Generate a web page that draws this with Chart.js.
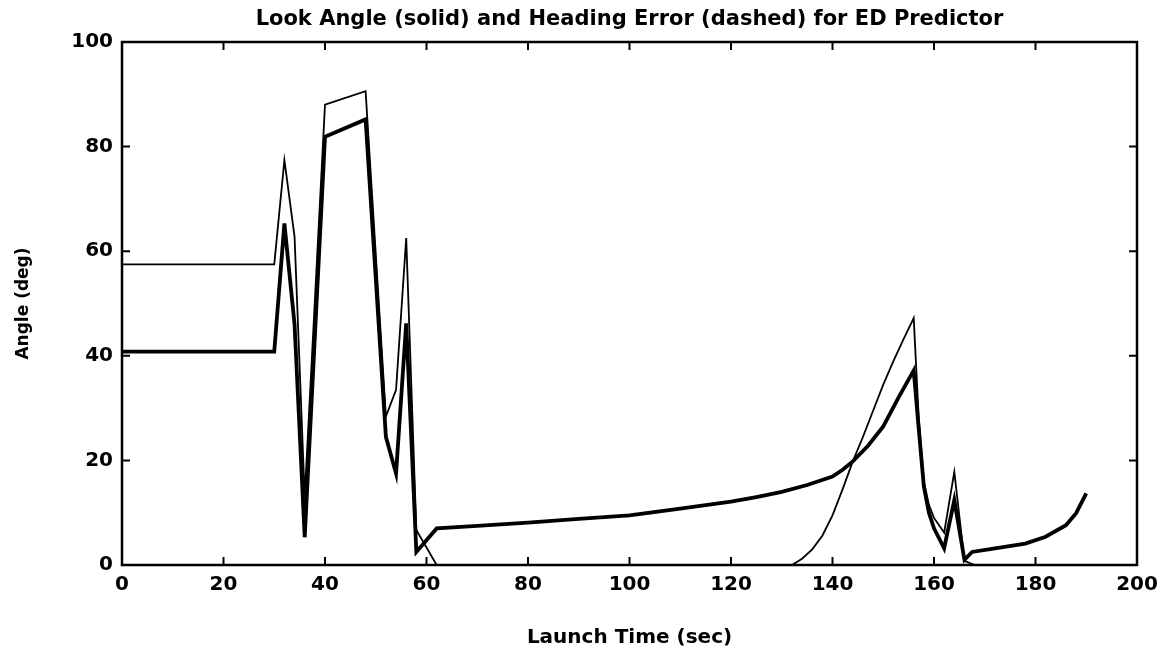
<!DOCTYPE html>
<html>
<head>
<meta charset="utf-8">
<script src="https://cdn.jsdelivr.net/npm/chart.js@4.4.0/dist/chart.umd.min.js"></script>
<style>
  body { margin: 0; background: #fff; }
  #wrap { width: 1168px; height: 650px; }
</style>
</head>
<body>
<div id="wrap"><canvas id="lookChart" width="1168" height="650"></canvas></div>
<script>
// Look angle (thick line), launch time in sec
const lookTime = [0, 30, 32, 34, 36, 40, 48, 52, 54, 56, 58, 62, 70, 80, 90, 100, 110, 120, 125, 130, 135, 140, 142, 144, 147, 150, 153, 156, 157, 158, 159, 160, 162, 164, 166, 167.5, 172, 178, 182, 186, 188, 190];
const lookAngle = [40.8, 40.8, 65.3, 46, 5.3, 81.9, 85.2, 24.5, 17.5, 46.2, 2.5, 7.0, 7.5, 8.1, 8.8, 9.5, 10.8, 12.1, 13.0, 14.0, 15.3, 16.9, 18.2, 19.8, 22.8, 26.5, 32.0, 37.2, 26, 15, 10, 7, 3.2, 12.4, 1.0, 2.5, 3.2, 4.1, 5.4, 7.6, 9.9, 13.7];

// Heading error (thin line)
const headingTime = [0, 30, 32, 34, 36, 40, 48, 52, 54, 56, 58, 62, 132, 134, 136, 138, 140, 142, 144, 146, 148, 150, 152, 154, 156, 157, 158, 159, 160, 162, 164, 166, 168];
const headingError = [57.5, 57.5, 77.4, 62.8, 13, 88, 90.6, 28.4, 33.5, 62.5, 6.7, 0, 0, 1.2, 3, 5.6, 9.5, 14.5, 19.8, 24.5, 29.5, 34.5, 39, 43.2, 47.2, 28, 16, 11.5, 9, 6.2, 17.8, 0.8, 0];

const xTicks = [0, 20, 40, 60, 80, 100, 120, 140, 160, 180, 200];
const yTicks = [0, 20, 40, 60, 80, 100];

function toPoints(xs, ys) {
  return xs.map((x, i) => ({ x: x, y: ys[i] }));
}

Chart.defaults.font.family = "'DejaVu Sans', sans-serif";
Chart.defaults.color = "#000";

// box round the plot with inward ticks on all four sides
const frameTicks = {
  id: "frameTicks",
  afterDatasetsDraw(chart) {
    const { ctx, chartArea: a, scales } = chart;
    const len = 8;
    ctx.save();
    ctx.strokeStyle = "#000";
    ctx.lineWidth = 2.5;
    ctx.strokeRect(a.left, a.top, a.right - a.left, a.bottom - a.top);
    ctx.lineWidth = 2;
    ctx.beginPath();
    scales.x.ticks.forEach((t) => {
      const px = scales.x.getPixelForValue(t.value);
      ctx.moveTo(px, a.bottom);
      ctx.lineTo(px, a.bottom - len);
      ctx.moveTo(px, a.top);
      ctx.lineTo(px, a.top + len);
    });
    scales.y.ticks.forEach((t) => {
      const py = scales.y.getPixelForValue(t.value);
      ctx.moveTo(a.left, py);
      ctx.lineTo(a.left + len, py);
      ctx.moveTo(a.right, py);
      ctx.lineTo(a.right - len, py);
    });
    ctx.stroke();
    ctx.restore();
  },
};

new Chart(document.getElementById("lookChart"), {
  type: "line",
  data: {
    datasets: [
      {
        label: "Look Angle",
        data: toPoints(lookTime, lookAngle),
        borderColor: "#000",
        borderWidth: 3.8,
        pointRadius: 0,
        tension: 0,
        fill: false,
      },
      {
        label: "Heading Error",
        data: toPoints(headingTime, headingError),
        borderColor: "#000",
        borderWidth: 1.8,
        pointRadius: 0,
        tension: 0,
        fill: false,
      },
    ],
  },
  options: {
    responsive: false,
    animation: false,
    layout: {
      padding: { left: 0, right: 31, top: 0, bottom: 0 },
    },
    plugins: {
      legend: { display: false },
      tooltip: { enabled: false },
      title: {
        display: true,
        fullSize: false,
        text: "Look Angle (solid) and Heading Error (dashed) for ED Predictor",
        font: { size: 21, weight: "bold" },
        padding: { top: 7, bottom: 9.8 },
        color: "#000",
      },
    },
    scales: {
      x: {
        type: "linear",
        min: 0,
        max: 200,
        afterFit: (scale) => { scale.height = 85; },
        afterBuildTicks: (scale) => { scale.ticks = xTicks.map((v) => ({ value: v })); },
        grid: { display: false, drawTicks: false },
        border: { display: false },
        ticks: {
          padding: 8,
          maxRotation: 0,
          font: { size: 20, weight: "bold" },
          color: "#000",
        },
        title: {
          display: true,
          text: "Launch Time (sec)",
          font: { size: 20, weight: "bold" },
          padding: { top: 4, bottom: 0 },
          color: "#000",
        },
      },
      y: {
        type: "linear",
        min: 0,
        max: 100,
        afterFit: (scale) => { scale.width = 122; },
        afterBuildTicks: (scale) => { scale.ticks = yTicks.map((v) => ({ value: v })); },
        grid: { display: false, drawTicks: false },
        border: { display: false },
        ticks: {
          padding: 9,
          font: { size: 20, weight: "bold" },
          color: "#000",
        },
        title: {
          display: true,
          text: "Angle (deg)",
          font: { size: 17, weight: "bold" },
          padding: { top: 13, bottom: 4 },
          color: "#000",
        },
      },
    },
  },
  plugins: [frameTicks],
});
</script>
</body>
</html>
